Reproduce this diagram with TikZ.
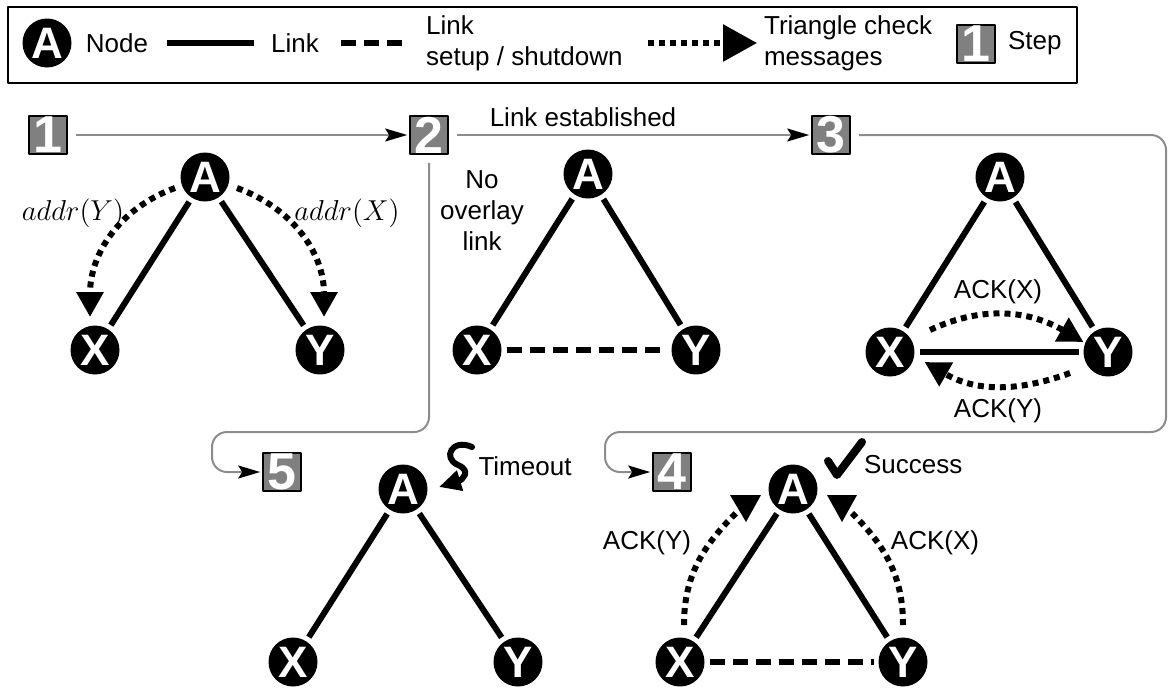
\documentclass[tikz,border=0pt]{standalone}
\usepackage{fontspec}
\setmainfont{Liberation Sans}
\usetikzlibrary{arrows.meta}

\begin{document}
\begin{tikzpicture}[
  x=0.5pt, y=-0.5pt,
  line join=round,
  >=Triangle,
  every node/.style={font=\fontsize{13}{15.5}\selectfont},
  peer/.style={circle, fill=black, text=white, minimum size=24.5pt, inner sep=0pt,
    outer sep=2.5pt, font=\bfseries\fontsize{22}{22}\selectfont},
  stepbox/.style={draw=black, line width=0.8pt, fill=black!50, text=white,
    minimum size=19pt, inner sep=0pt, font=\bfseries\fontsize{26}{26}\selectfont},
  link/.style={line width=3pt},
  setup/.style={line width=3pt, dash pattern=on 7.5pt off 4pt},
  msg/.style={line width=3pt, dash pattern=on 3pt off 2.5pt,
    -{Triangle[length=12.5pt,width=13pt,sep=-2pt]}},
  flow/.style={draw=gray!90, line width=1pt, rounded corners=7.5pt,
    -{Stealth[black,length=11pt,width=6.5pt,inset=2pt]}, shorten <=4pt, shorten >=1pt},
  addr/.style={font=\fontsize{15}{15}\selectfont}
]
\useasboundingbox (0,0) rectangle (1170,691);

% legend
\draw [line width=1pt] (8,7) rectangle (1077,83);
\node [peer] (lnode) at (47,43) {A};
\node (ltxtnode) at (117,43) {Node};
\coordinate (llinkA) at (167,43);
\coordinate (llinkB) at (254,43);
\draw [link] (llinkA) -- (llinkB);
\node (ltxtlink) at (295,43) {Link};
\coordinate (lsetA) at (341,43);
\coordinate (lsetB) at (408,43);
\draw [setup] (lsetA) -- (lsetB);
\node [anchor=west, align=left] (ltxtsetup) at (419,43) {Link\\setup / shutdown};
\coordinate (lmsgA) at (648,43);
\coordinate (lmsgB) at (753,43);
\draw [msg, -{Triangle[length=17pt,width=18pt,sep=-2pt]}] (lmsgA) -- (lmsgB);
\node [anchor=west, align=left] (ltxtmsg) at (757,43) {Triangle check\\messages};
\node [stepbox] (lstep) at (976,44) {1};
\node [anchor=west] (ltxtstep) at (1001,43) {Step};

% the five steps, each one a triangle A, X, Y
\foreach \s/\ax/\ay/\xx/\xy/\yx in {1/205/177/95/350/320,
                                    2/588/174/477/350/696,
                                    3/1000/177/890/352/1108,
                                    5/403/489/293/662/518,
                                    4/793/489/680/662/903} {
  \node [peer] (a\s) at (\ax,\ay) {A};
  \node [peer] (x\s) at (\xx,\xy) {X};
  \node [peer] (y\s) at (\yx,\xy) {Y};
  \draw [link] (a\s) -- (x\s);
  \draw [link] (a\s) -- (y\s);
}
\draw [setup] (x2) -- (y2);
\draw [link] (x3) -- (y3);
\draw [setup] (x4) -- (y4);

% step boxes and the order between them
\node [stepbox] (s1) at (48,135) {1};
\node [stepbox] (s2) at (429,135) {2};
\node [stepbox] (s3) at (831,135) {3};
\node [stepbox] (s5) at (282,472) {5};
\node [stepbox] (s4) at (672,472) {4};

\draw [flow] (s1) -- (s2);
\draw [flow] (s2) -- (s3);
\node (est) at (583,117) {Link established};
\draw [flow] (s2) -- (429,432) -- (212,432) -- (212,472) -- (s5);
\draw [flow] (s3) -- (1166,135) -- (1166,432) -- (605,432) -- (605,472) -- (s4);

% step 1
\draw [msg] (175,188) to[out=200,in=90] (90,313);
\draw [msg] (237,188) to[out=-20,in=90] (324,313);
\node [addr] (ay) at (73,213) {$addr(Y)$};
\node [addr] (ax) at (347,213) {$addr(X)$};

% step 2
\node [align=center] (nolink) at (482,211) {No\\overlay\\link};

% step 3
\draw [msg] (930,330) to[out=25,in=150] (1080,340);
\draw [msg] (1070,373) to[out=200,in=-30] (928,364);
\node (ack3x) at (998,292) {ACK(X)};
\node (ack3y) at (998,411) {ACK(Y)};

% step 5
\draw [line width=3pt, line cap=round, -{Triangle[length=11pt,width=10pt]}]
  (472,447) .. controls (452,438) and (442,458) .. (458,465)
  .. controls (472,471) and (462,480) .. (439,487);
\node (timeout) at (525,466) {Timeout};

% step 4
\draw [line width=3pt, dash pattern=on 3pt off 2.5pt] (684,625) to[out=90,in=225] (736,513);
\draw [line width=3pt, dash pattern=on 3pt off 2.5pt] (903,625) to[out=90,in=-45] (852,513);
\fill (730,495) -- (761,495) -- (746,522) -- cycle;
\fill (827,495) -- (857,495) -- (842,522) -- cycle;
\node (ack4y) at (647,543) {ACK(Y)};
\node (ack4x) at (935,543) {ACK(X)};
\draw [line width=4pt, line cap=round] (828,461) -- (837,475) -- (862,442);
\node [anchor=west] (success) at (857,465) {Success};

\end{tikzpicture}
\end{document}
